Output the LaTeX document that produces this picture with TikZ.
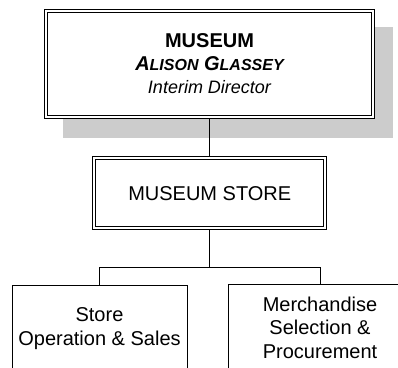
\documentclass[tikz,border=0pt]{standalone}
\usepackage{fontspec}
\setmainfont{Liberation Sans}
\usetikzlibrary{backgrounds}
\begin{document}
\begin{tikzpicture}[x=1pt,y=-1pt,
  dbox/.style={draw, line width=1.1pt, double=white, double distance=2.2pt, fill=white, inner sep=0pt, outer sep=2.2pt, align=center},
  sbox/.style={draw, line width=0.9pt, fill=white, inner sep=0pt, align=center},
  conn/.style={line width=0.9pt},
  txt/.style={font=\fontsize{20}{23.5}\selectfont},
  shadowfill/.style={fill=gray!40}]
\useasboundingbox (0,0) rectangle (398,367);
\clip (0,0) rectangle (398,367);
\node[dbox, minimum width=326.5pt, minimum height=106.5pt, font=\fontsize{20}{23}\selectfont] (dir) at (209.5,64)
  {\textbf{MUSEUM}\\
   {\bfseries\itshape A{\fontsize{16}{23}\selectfont LISON} G{\fontsize{16}{23}\selectfont LASSEY}}\\
   {\fontsize{18}{23}\selectfont\itshape Interim Director}};
\begin{scope}[on background layer]
  \fill[shadowfill] ([shift={(18.5,18.5)}]dir.north west) rectangle ([shift={(18.5,18.5)}]dir.south east);
\end{scope}
\node[dbox, minimum width=231pt, minimum height=70pt, txt] (store) at (209.75,193.25) {MUSEUM STORE};
\node[sbox, minimum width=175pt, minimum height=87pt, txt] (ops) at (99.5,328.5) {Store\\Operation \& Sales};
\node[sbox, minimum width=184pt, minimum height=87.6pt, txt] (merch) at (320,327.8) {Merchandise\\Selection \&\\Procurement};
\coordinate (bus) at (210,267);
\draw[conn] (dir.south) -- (dir.south |- store.north);
\draw[conn] (store.south) -- (store.south |- bus);
\draw[conn] (ops.north) -- (ops.north |- bus) -- (merch.north |- bus) -- (merch.north);
\end{tikzpicture}
\end{document}
